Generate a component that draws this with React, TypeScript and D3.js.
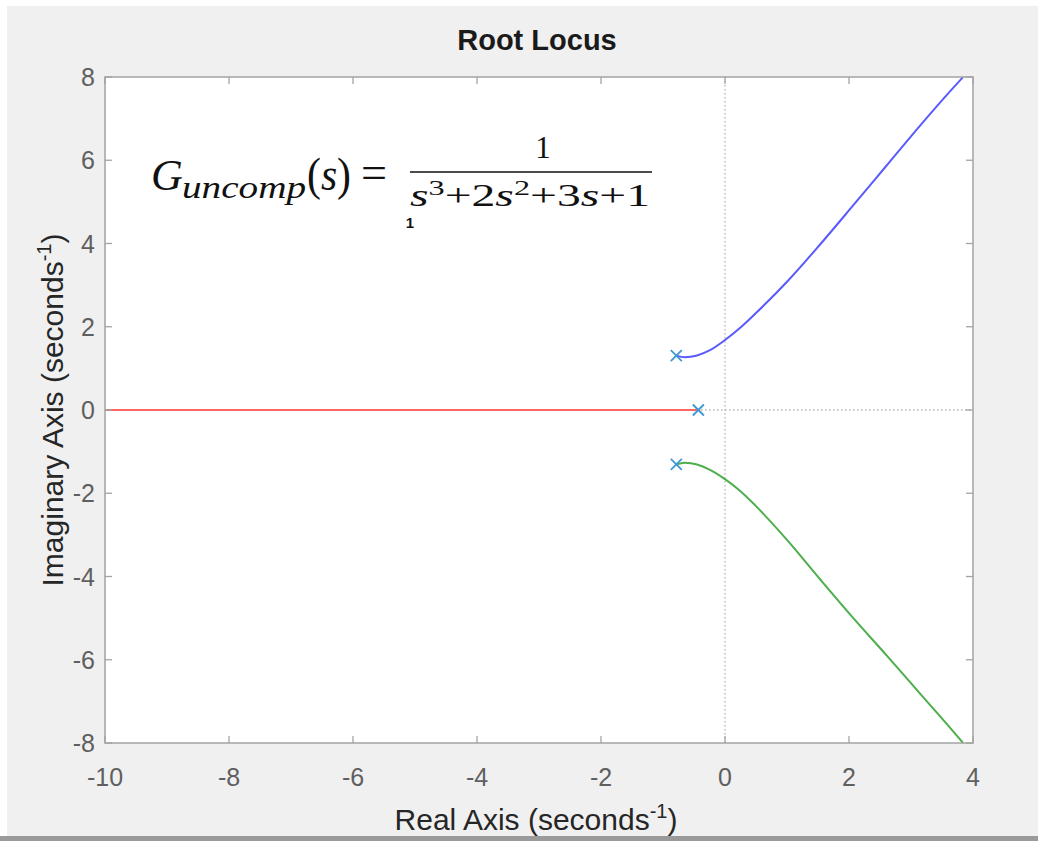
import React from "react";
import * as d3 from "d3";

const xTicks = [-10, -8, -6, -4, -2, 0, 2, 4];
const yTicks = [-8, -6, -4, -2, 0, 2, 4, 6, 8];

const blueX = [-0.785, -0.65, -0.45, -0.25, 0, 0.25, 0.5, 1.0, 1.53, 2.07, 2.61, 3.15, 3.68, 3.84];
const blueY = [1.307, 1.27, 1.31, 1.43, 1.68, 1.98, 2.33, 3.08, 3.97, 4.92, 5.88, 6.84, 7.74, 8.0];
const greenX = [-0.785, -0.65, -0.45, -0.25, 0, 0.25, 0.5, 1.0, 1.53, 2.07, 2.61, 3.15, 3.68, 3.84];
const greenY = [-1.307, -1.27, -1.31, -1.43, -1.66, -1.95, -2.31, -3.12, -4.06, -5.0, -5.9, -6.82, -7.72, -8.0];
const redX = [-10, -0.43];
const redY = [0, 0];
const polesRe = [-0.785, -0.785, -0.43];
const polesIm = [1.307, -1.307, 0];

const W = 1038, H = 841;
const L = 105, R = 973, T = 77, B = 743;

export default function App() {
  const x = d3.scaleLinear().domain([-10, 4]).range([L, R]);
  const y = d3.scaleLinear().domain([-8, 8]).range([B, T]);
  const line = d3
    .line<[number, number]>()
    .x((d) => x(d[0]))
    .y((d) => y(d[1]))
    .curve(d3.curveMonotoneX);
  const zip = (a: number[], b: number[]) => a.map((v, i) => [v, b[i]] as [number, number]);
  const tickColor = "#5f5f5f";
  const frame = "#a3a3a3";
  const tl = 7;
  const font = "'Liberation Sans', Arial, Helvetica, sans-serif";
  const mathFont = "'Liberation Serif', 'DejaVu Serif', serif";
  return (
    <svg width={W} height={H} style={{ position: "absolute", left: 0, top: 0 }}>
      <rect x={0} y={0} width={W} height={H} fill="#ffffff" />
      <rect x={7} y={6} width={W - 7} height={830} fill="#f0f0f0" />
      <rect x={0} y={836} width={W} height={5} fill="#9a9a9a" />
      <rect x={L} y={T} width={R - L} height={B - T} fill="#ffffff" />
      {/* dotted zero lines */}
      <line x1={x(0)} x2={x(0)} y1={T} y2={B} stroke="#b5b5b5" strokeWidth={1.3} strokeDasharray="1.5,2.5" />
      <line x1={L} x2={R} y1={y(0)} y2={y(0)} stroke="#b5b5b5" strokeWidth={1.3} strokeDasharray="1.5,2.5" />
      {/* loci */}
      <path d={line(zip(redX, redY)) || ""} fill="none" stroke="#ff6464" strokeWidth={2} />
      <path d={line(zip(blueX, blueY)) || ""} fill="none" stroke="#5a5aff" strokeWidth={2} />
      <path d={line(zip(greenX, greenY)) || ""} fill="none" stroke="#4caf4c" strokeWidth={2} />
      {/* poles */}
      {polesRe.map((re, i) => {
        const cx = x(re), cy = y(polesIm[i]);
        const s = 5.5;
        return (
          <g key={i} stroke="#3f98d2" strokeWidth={1.8}>
            <line x1={cx - s} y1={cy - s} x2={cx + s} y2={cy + s} />
            <line x1={cx - s} y1={cy + s} x2={cx + s} y2={cy - s} />
          </g>
        );
      })}
      {/* frame */}
      <rect x={L} y={T} width={R - L} height={B - T} fill="none" stroke={frame} strokeWidth={1.5} />
      {xTicks.map((t) => (
        <g key={"x" + t}>
          <line x1={x(t)} x2={x(t)} y1={B} y2={B - tl} stroke={frame} strokeWidth={1.3} />
          <line x1={x(t)} x2={x(t)} y1={T} y2={T + tl} stroke={frame} strokeWidth={1.3} />
          <text x={x(t)} y={786} textAnchor="middle" fontFamily={font} fontSize={25} fill={tickColor}>
            {t}
          </text>
        </g>
      ))}
      {yTicks.map((t) => (
        <g key={"y" + t}>
          <line x1={L} x2={L + tl} y1={y(t)} y2={y(t)} stroke={frame} strokeWidth={1.3} />
          <line x1={R} x2={R - tl} y1={y(t)} y2={y(t)} stroke={frame} strokeWidth={1.3} />
          <text x={95} y={y(t) + 9} textAnchor="end" fontFamily={font} fontSize={25} fill={tickColor}>
            {t}
          </text>
        </g>
      ))}
      {/* title & labels */}
      <text x={537} y={50} textAnchor="middle" fontFamily={font} fontWeight="bold" fontSize={29} fill="#1a1a1a">
        Root Locus
      </text>
      <text x={536} y={830} textAnchor="middle" fontFamily={font} fontSize={30} fill="#262626">
        Real Axis (seconds
        <tspan dy={-12} fontSize={20}>-1</tspan>
        <tspan dy={12}>)</tspan>
      </text>
      <text
        transform={`translate(63, ${y(0)}) rotate(-90)`}
        textAnchor="middle"
        fontFamily={font}
        fontSize={30}
        fill="#262626"
      >
        Imaginary Axis (seconds
        <tspan dy={-12} fontSize={20}>-1</tspan>
        <tspan dy={12}>)</tspan>
      </text>
      {/* equation annotation */}
      <g fill="#111" fontFamily={mathFont}>
        <text x={151} y={190} fontSize={44} fontStyle="italic">G</text>
        <text x={182} y={198} fontSize={31} fontStyle="italic" textLength={124} lengthAdjust="spacingAndGlyphs">uncomp</text>
        <text x={307} y={190} fontSize={46} textLength={44} lengthAdjust="spacingAndGlyphs">
          (<tspan fontStyle="italic">s</tspan>)
        </text>
        <text x={361} y={188} fontSize={46} textLength={26} lengthAdjust="spacingAndGlyphs">=</text>
        <text x={543} y={158} fontSize={31} textAnchor="middle">1</text>
        <line x1={410} x2={652} y1={172} y2={172} stroke="#111" strokeWidth={1.6} />
        <text x={410} y={206} fontSize={31} textLength={240} lengthAdjust="spacingAndGlyphs">
          <tspan fontStyle="italic">s</tspan>
          <tspan dy={-11} fontSize={21}>3</tspan>
          <tspan dy={11}>+2</tspan>
          <tspan fontStyle="italic">s</tspan>
          <tspan dy={-11} fontSize={21}>2</tspan>
          <tspan dy={11}>+3</tspan>
          <tspan fontStyle="italic">s</tspan>
          <tspan>+1</tspan>
        </text>
        <text x={410} y={228} fontSize={15} textAnchor="middle" fontFamily={font} fontWeight="bold">1</text>
      </g>
    </svg>
  );
}
